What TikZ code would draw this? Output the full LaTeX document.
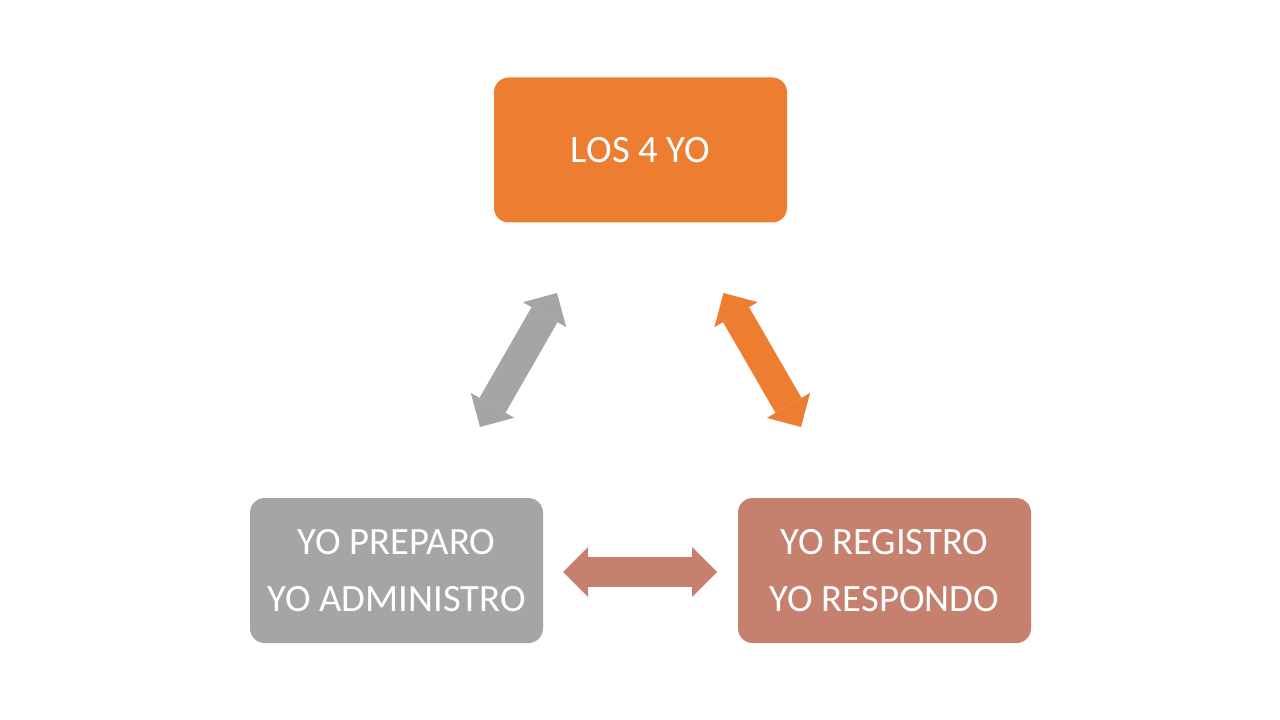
\documentclass[tikz,border=0pt]{standalone}
\usepackage{fontspec}
\setmainfont{Carlito}
\usepackage{xcolor}
\usetikzlibrary{positioning,arrows.meta}

\definecolor{yoorange}{HTML}{ED7D31}
\definecolor{yogray}{HTML}{A5A5A5}
\definecolor{yobrown}{HTML}{C5806E}

\begin{document}
\begin{tikzpicture}[x=0.75pt,y=-0.75pt,
  yobox/.style={rounded corners=11pt, minimum width=219.75pt, minimum height=108.75pt,
    inner sep=0pt, text=white, align=center, font=\fontsize{29}{43}\selectfont},
  yotip/.tip={Triangle[width=37.5pt,length=18.75pt,line width=0pt]},
  yoarrow/.style={line width=22.5pt, yotip-yotip}]
  \useasboundingbox (0,0) rectangle (1280,720);
  \node[yobox, fill=yoorange] (node1) at (640.5,150) {LOS 4 YO};
  \node[yobox, fill=yogray] (node2) [on grid, below left = 315.4pt and 183pt of node1] {YO PREPARO\\YO ADMINISTRO};
  \node[yobox, fill=yobrown] (node3) [on grid, below right = 315.4pt and 183pt of node1] {YO REGISTRO\\YO RESPONDO};
  % arrows
  \coordinate (g1) at (480,427);
  \coordinate (g2) at (557,293);
  \coordinate (o1) at (723.5,293);
  \coordinate (o2) at (801,427);
  \coordinate (b1) at (563,572);
  \coordinate (b2) at (717,572);
  \draw[yoarrow, yogray] (g1) -- (g2);
  \draw[yoarrow, yoorange] (o1) -- (o2);
  \draw[yoarrow, yobrown] (b1) -- (b2);
\end{tikzpicture}
\end{document}
